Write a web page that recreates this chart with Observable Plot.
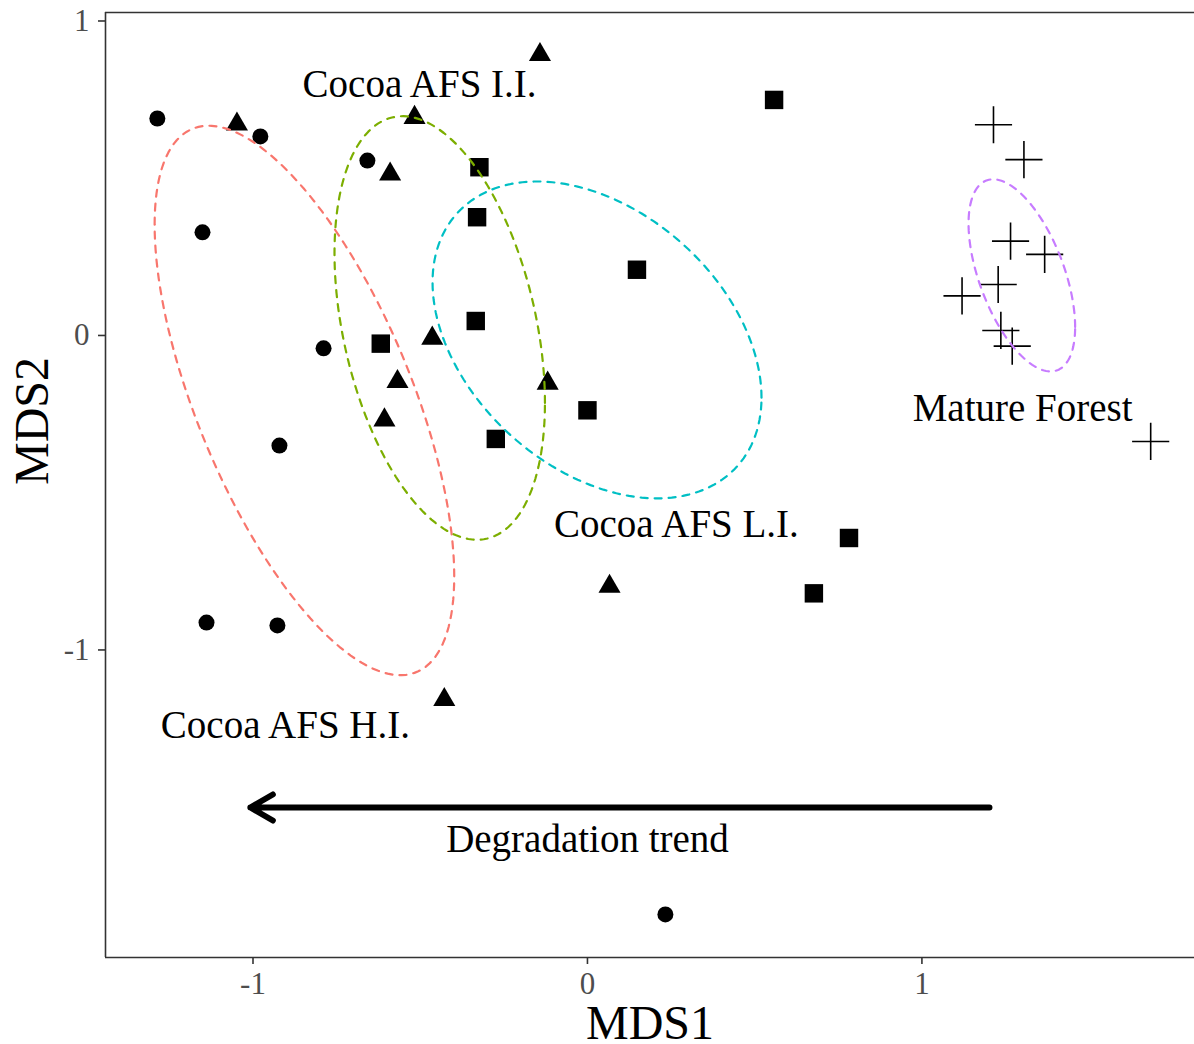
<!DOCTYPE html>
<html>
<head>
<meta charset="utf-8">
<script src="https://cdn.jsdelivr.net/npm/d3@7"></script>
<script src="https://cdn.jsdelivr.net/npm/@observablehq/plot@0.6"></script>
<style>
  html, body { margin: 0; padding: 0; background: #ffffff; }
  #chart svg { display: block; }
</style>
</head>
<body>
<div id="chart"></div>
<script>
// ---- Data (NMDS scores) ----
// Cocoa AFS H.I. (circles)
const hiX = [-1.286, -0.978, -1.151, -0.658, -0.789, -0.921, -1.139, -0.927, 0.233];
const hiY = [0.690, 0.633, 0.328, 0.556, -0.041, -0.350, -0.913, -0.922, -1.841];
// Cocoa AFS I.I. (triangles)
const iiX = [-0.142, -1.048, -0.517, -0.590, -0.464, -0.568, -0.607, -0.119, 0.066, -0.428];
const iiY = [0.893, 0.672, 0.693, 0.513, -0.009, -0.147, -0.269, -0.152, -0.798, -1.158];
// Cocoa AFS L.I. (squares)
const liX = [-0.323, -0.330, -0.334, -0.618, -0.274, 0.000, 0.558, 0.148, 0.782, 0.677];
const liY = [0.535, 0.376, 0.046, -0.026, -0.329, -0.238, 0.749, 0.209, -0.644, -0.820];
// Mature Forest (plus signs)
const mfX = [1.214, 1.305, 1.265, 1.367, 1.228, 1.120, 1.236, 1.270, 1.684];
const mfY = [0.670, 0.559, 0.300, 0.258, 0.162, 0.126, 0.016, -0.034, -0.337];

// Group ellipse colours (H.I., I.I., L.I., Mature Forest)
const groupColors = ["#F8766D", "#7CAE00", "#00BFC4", "#C77CFF"];

// Annotations
const labelText = ["Cocoa AFS I.I.", "Cocoa AFS H.I.", "Cocoa AFS L.I.", "Mature Forest", "Degradation trend"];
const labelX = [-0.502, -0.903, 0.266, 1.301, 0.000];
const labelY = [0.797, -1.241, -0.601, -0.232, -1.603];
const arrowStart = {x: 1.202, y: -1.501};
const arrowEnd = {x: -1.008, y: -1.501};

// Axes
const xTicks = [-1, 0, 1];
const yTicks = [-1, 0, 1];
const xDomain = [-1.441, 1.815];
const yDomain = [-1.978, 1.027];

// Standard-deviation ellipse computed from a group's points
function sdEllipse(xs, ys, n = 160) {
  const mx = d3.mean(xs), my = d3.mean(ys);
  const k = xs.length - 1;
  let sxx = 0, syy = 0, sxy = 0;
  for (let i = 0; i < xs.length; i++) {
    const dx = xs[i] - mx, dy = ys[i] - my;
    sxx += dx * dx; syy += dy * dy; sxy += dx * dy;
  }
  sxx /= k; syy /= k; sxy /= k;
  const a = Math.sqrt(sxx), b = sxy / a, c = Math.sqrt(Math.max(syy - b * b, 0));
  return d3.range(n + 1).map(i => {
    const t = (2 * Math.PI * i) / n;
    return {x: mx + a * Math.cos(t), y: my + b * Math.cos(t) + c * Math.sin(t)};
  });
}

const serif = "'Liberation Serif', 'Times New Roman', Times, serif";
const ellipseStyle = {x: "x", y: "y", strokeWidth: 2.2, strokeDasharray: "7,7"};

const chart = Plot.plot({
  width: 1194,
  height: 1044,
  marginLeft: 105,
  marginRight: 0,
  marginTop: 12,
  marginBottom: 87,
  x: {domain: xDomain},
  y: {domain: yDomain},
  style: {fontFamily: serif, fontSize: "31px", background: "#ffffff", color: "#000"},
  marks: [
    // panel lines (left, top, bottom)
    Plot.ruleX([xDomain[0]], {stroke: "#333333", strokeWidth: 1.6}),
    Plot.ruleY([yDomain[0], yDomain[1]], {stroke: "#333333", strokeWidth: 1.6}),
    Plot.axisX(xTicks, {
      anchor: "bottom", tickSize: 7, tickPadding: 7, fontSize: 31,
      tickFormat: d => String(d), stroke: "#333333", strokeWidth: 1.6, fill: "#4D4D4D", label: null
    }),
    Plot.axisY(yTicks, {
      anchor: "left", tickSize: 7, tickPadding: 9, fontSize: 31,
      tickFormat: d => String(d), stroke: "#333333", strokeWidth: 1.6, fill: "#4D4D4D", label: null
    }),
    // points
    Plot.dot(hiX, {x: hiX, y: hiY, symbol: "circle", r: 8, fill: "#000", stroke: "none"}),
    Plot.dot(iiX, {x: iiX, y: iiY, symbol: "triangle", r: 8.2, fill: "#000", stroke: "none"}),
    Plot.dot(liX, {x: liX, y: liY, symbol: "square", r: 10.4, fill: "#000", stroke: "none"}),
    Plot.dot(mfX, {x: mfX, y: mfY, symbol: "plus", r: 12, fill: "none", stroke: "#000", strokeWidth: 1.6}),
    // group ellipses
    Plot.line(sdEllipse(hiX, hiY), {...ellipseStyle, stroke: groupColors[0]}),
    Plot.line(sdEllipse(iiX, iiY), {...ellipseStyle, stroke: groupColors[1]}),
    Plot.line(sdEllipse(liX, liY), {...ellipseStyle, stroke: groupColors[2]}),
    Plot.line(sdEllipse(mfX, mfY), {...ellipseStyle, stroke: groupColors[3]}),
    // degradation arrow
    Plot.arrow([arrowStart], {
      x1: d => d.x, y1: d => d.y, x2: () => arrowEnd.x, y2: () => arrowEnd.y,
      stroke: "#000", strokeWidth: 6, headLength: 6.5, headAngle: 60
    }),
    // annotations
    Plot.text(labelText, {x: labelX, y: labelY, text: d => d, fontSize: 39, fill: "#000", fontFamily: serif}),
    // axis titles
    Plot.text(["MDS1"], {frameAnchor: "bottom", dy: 81, lineAnchor: "bottom", text: d => d, fontSize: 48, fill: "#000", fontFamily: serif}),
    Plot.text(["MDS2"], {frameAnchor: "left", dx: -58, rotate: -90, lineAnchor: "bottom", text: d => d, fontSize: 48, fill: "#000", fontFamily: serif})
  ]
});
document.getElementById("chart").appendChild(chart);
</script>
</body>
</html>
